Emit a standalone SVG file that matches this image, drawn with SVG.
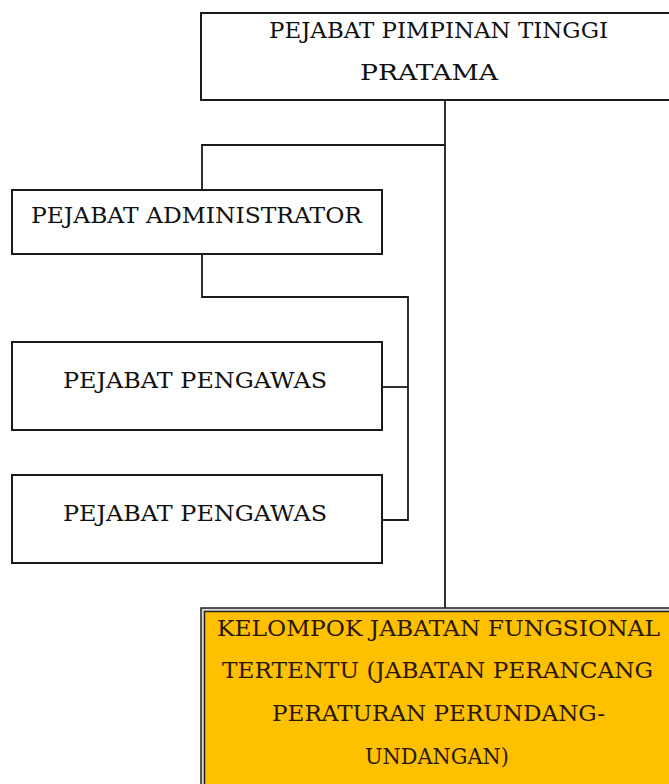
<svg xmlns="http://www.w3.org/2000/svg" width="669" height="784" viewBox="0 0 669 784">
<style>
.box{fill:#ffffff;stroke:#1a1a1a;stroke-width:2}
.t{font-family:"DejaVu Serif","Liberation Serif",serif;font-size:21.5px;fill:#111111}
.to{font-family:"DejaVu Serif","Liberation Serif",serif;font-size:21.5px;fill:#2a1805}
.c{fill:none;stroke:#1a1a1a;stroke-width:1.8}
</style>
<rect width="669" height="784" fill="#ffffff"/>
<g id="connectors">
<path class="c" d="M445,100 V608"/>
<path class="c" d="M445,145 H202 V190"/>
<path class="c" d="M202,254 V297 H408 V520 H382"/>
<path class="c" d="M382,387 H408"/>
</g>
<g id="node-pratama">
<rect class="box" x="201" y="13" width="480" height="87"/>
<text class="t" x="269" y="38" textLength="339" lengthAdjust="spacingAndGlyphs">PEJABAT PIMPINAN TINGGI</text>
<text class="t" x="360" y="80" textLength="138" lengthAdjust="spacingAndGlyphs">PRATAMA</text>
</g>
<g id="node-administrator">
<rect class="box" x="12" y="190" width="370" height="64"/>
<text class="t" x="31" y="223" textLength="331" lengthAdjust="spacingAndGlyphs">PEJABAT ADMINISTRATOR</text>
</g>
<g id="node-pengawas-1">
<rect class="box" x="12" y="342" width="370" height="88"/>
<text class="t" x="63" y="388" textLength="264" lengthAdjust="spacingAndGlyphs">PEJABAT PENGAWAS</text>
</g>
<g id="node-pengawas-2">
<rect class="box" x="12" y="475" width="370" height="88"/>
<text class="t" x="63" y="521" textLength="264" lengthAdjust="spacingAndGlyphs">PEJABAT PENGAWAS</text>
</g>
<g id="node-fungsional">
<rect x="201" y="608" width="480" height="190" fill="#d8d8d8" stroke="#222222" stroke-width="1.5"/>
<rect x="204.5" y="611.5" width="480" height="190" fill="#ffc000" stroke="#222222" stroke-width="1.5"/>
<text class="to" x="217" y="636" textLength="443" lengthAdjust="spacingAndGlyphs">KELOMPOK JABATAN FUNGSIONAL</text>
<text class="to" x="222" y="678" textLength="431" lengthAdjust="spacingAndGlyphs">TERTENTU (JABATAN PERANCANG</text>
<text class="to" x="272" y="721" textLength="333" lengthAdjust="spacingAndGlyphs">PERATURAN PERUNDANG-</text>
<text class="to" x="365" y="764" textLength="144" lengthAdjust="spacingAndGlyphs">UNDANGAN)</text>
</g>
</svg>
